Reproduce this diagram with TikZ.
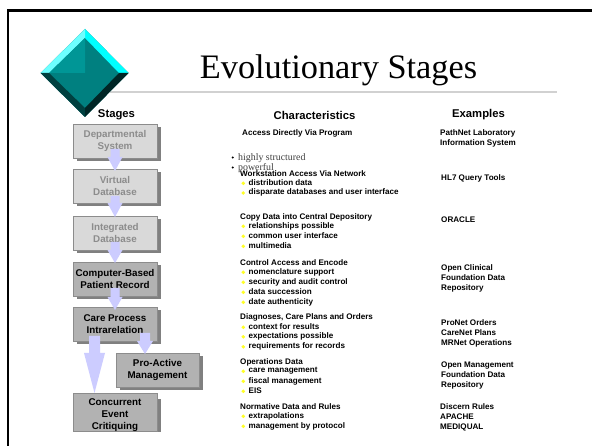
\documentclass[tikz,border=0pt]{standalone}
\usepackage{fontspec}
\setmainfont{Liberation Sans}
\newfontfamily\serifface{Liberation Serif}
\definecolor{lav}{RGB}{204,204,255}
\definecolor{boxA}{RGB}{217,217,217}
\definecolor{boxB}{RGB}{178,178,178}
\definecolor{edgeg}{RGB}{140,140,140}
\definecolor{shad}{RGB}{128,128,128}
\definecolor{txtg}{RGB}{140,140,140}
\definecolor{bul}{RGB}{255,255,40}
\definecolor{dmain}{RGB}{0,128,128}
\definecolor{dlight}{RGB}{0,150,150}
\definecolor{dcyanA}{RGB}{110,255,255}
\definecolor{dcyanB}{RGB}{0,255,255}
\definecolor{ddarkA}{RGB}{0,64,64}
\definecolor{ddarkB}{RGB}{0,38,38}
\tikzset{
 stagebase/.style={draw=edgeg,line width=0.8pt,minimum width=84pt,minimum height=34pt,inner sep=0pt,align=center,font=\bfseries\fontsize{9.8}{11.8}\selectfont},
 lightbox/.style={stagebase,fill=boxA,text=txtg},
 darkbox/.style={stagebase,fill=boxB,text=black},
 head/.style={font=\bfseries\fontsize{11.3}{13}\selectfont,inner sep=0pt},
 txt/.style={font=\bfseries\fontsize{8.1}{10}\selectfont,inner sep=0pt,anchor=north west,align=left},
 sertxt/.style={font=\serifface\fontsize{9.9}{11}\selectfont,text=black!75,inner sep=0pt,anchor=west},
 bull/.style={circle,fill=bul,inner sep=0pt,minimum size=3.8pt},
 blockarrow/.style={fill=lav,draw=none}
}
\newcommand{\boxshade}[4]{\fill[shad] (#1+4,#2+3) rectangle (#3+4,#4+3);}
\newcommand{\blockdown}[6]{\fill[blockarrow] (#1-#2,#3) -- (#1+#2,#3) -- (#1+#2,#4) -- (#1+#5,#4) -- (#1,#6) -- (#1-#5,#4) -- (#1-#2,#4) -- cycle;}
\begin{document}
\begin{tikzpicture}[x=1pt,y=-1pt]
\useasboundingbox (0,0) rectangle (592,446);
\fill[white] (0,0) rectangle (592,446);
\draw[line width=2.6pt] (8,446) -- (8,10.5) -- (592,10.5);
% title rule
\fill[black!18] (110,91) rectangle (557,92.6);
% diamond
\fill[dmain] (85,29) -- (128.5,73) -- (85,117) -- (40.5,73) -- cycle;
\fill[dcyanB] (85,29) -- (128.5,73) -- (119,73) -- (85,38) -- cycle;
\fill[dcyanA] (85,29) -- (40.5,73) -- (49,73) -- (85,38) -- cycle;
\fill[ddarkA] (40.5,73) -- (85,117) -- (85,108) -- (49,73) -- cycle;
\fill[ddarkB] (128.5,73) -- (85,117) -- (85,108) -- (119,73) -- cycle;
\fill[dlight] (85,38) -- (49,73) -- (85,73) -- cycle;
\node[font=\serifface\fontsize{34.3}{34}\selectfont,inner sep=0pt,anchor=base] (title) at (338.5,79) {Evolutionary Stages};
% shadows
\boxshade{73}{124}{157}{158}
\boxshade{73}{169}{157}{203}
\boxshade{73}{216}{157}{250}
\boxshade{73}{262}{157}{296}
\boxshade{73}{307}{157}{341}
\boxshade{116}{353}{199}{387}
\boxshade{73}{396}{157}{429}
% boxes
\node[head] (hs) at (116.5,115) {Stages};
\node[lightbox] (b1) at (115,141) {Departmental\\System};
\node[lightbox] (b2) at (115,186) {Virtual\\Database};
\node[lightbox] (b3) at (115,233) {Integrated\\Database};
\node[darkbox] (b4) at (115,279) {Computer-Based\\Patient Record};
\node[darkbox] (b5) at (115,324) {Care Process\\Intrarelation};
\node[darkbox,minimum width=83pt] (b6) at (157.5,370) {Pro-Active\\Management};
\node[darkbox,minimum height=33pt] (b7) at (115,412.5) {\rule{0pt}{12pt}Concurrent\\Event\\Critiquing};
% arrows
\blockdown{115}{4.5}{149}{157}{7.5}{171}
\blockdown{115}{4.5}{196}{203}{7.5}{217}
\blockdown{115}{4.5}{242}{250}{7.5}{263}
\blockdown{115}{4.5}{288}{297}{7.5}{310}
\blockdown{145}{5}{333}{341}{8}{354}
\blockdown{94.5}{5.5}{336}{353}{10.5}{393}
% headers
\node[head] (hc) at (314.5,115) {Characteristics};
\node[head] (he) at (478.5,115) {Examples};
% characteristics
\node[txt] at (242,129) {Access Directly Via Program};
\node[sertxt] (s1) at (238,158) {highly structured};
\node[sertxt] (s2) at (238,168) {powerful};
\fill (232.7,157.5) circle (1.1pt);
\fill (232.7,167.5) circle (1.1pt);
\node[txt] at (240,170) {Workstation Access Via Network};
\foreach \y/\t in {183/distribution data,192.7/disparate databases and user interface,226/relationships possible,236/common user interface,246/multimedia,272/nomenclature support,282/security and audit control,292/data succession,302/date authenticity,327/context for results,336.5/expectations possible,346.5/requirements for records,371/care management,381/fiscal management,391/EIS,416/extrapolations,426/management by protocol}
 {\node[bull] at (243.3,\y+.3) {}; \node[txt,anchor=west] at (248.5,\y) {\t};}
\node[txt] at (240,213) {Copy Data into Central Depository};
\node[txt] at (240,259) {Control Access and Encode};
\node[txt] at (240,313) {Diagnoses, Care Plans and Orders};
\node[txt] at (240,358) {Operations Data};
\node[txt] at (240,403) {Normative Data and Rules};
% examples
\node[txt] at (440,129) {PathNet Laboratory\\Information System};
\node[txt] at (441,174) {HL7 Query Tools};
\node[txt] at (441,217) {ORACLE};
\node[txt] at (441,264) {Open Clinical\\Foundation Data\\Repository};
\node[txt] at (441,319) {ProNet Orders\\CareNet Plans\\MRNet Operations};
\node[txt] at (441,362) {Open Management\\Foundation Data\\Repository};
\node[txt] at (440,403) {Discern Rules\\APACHE\\MEDIQUAL};
\end{tikzpicture}
\end{document}
